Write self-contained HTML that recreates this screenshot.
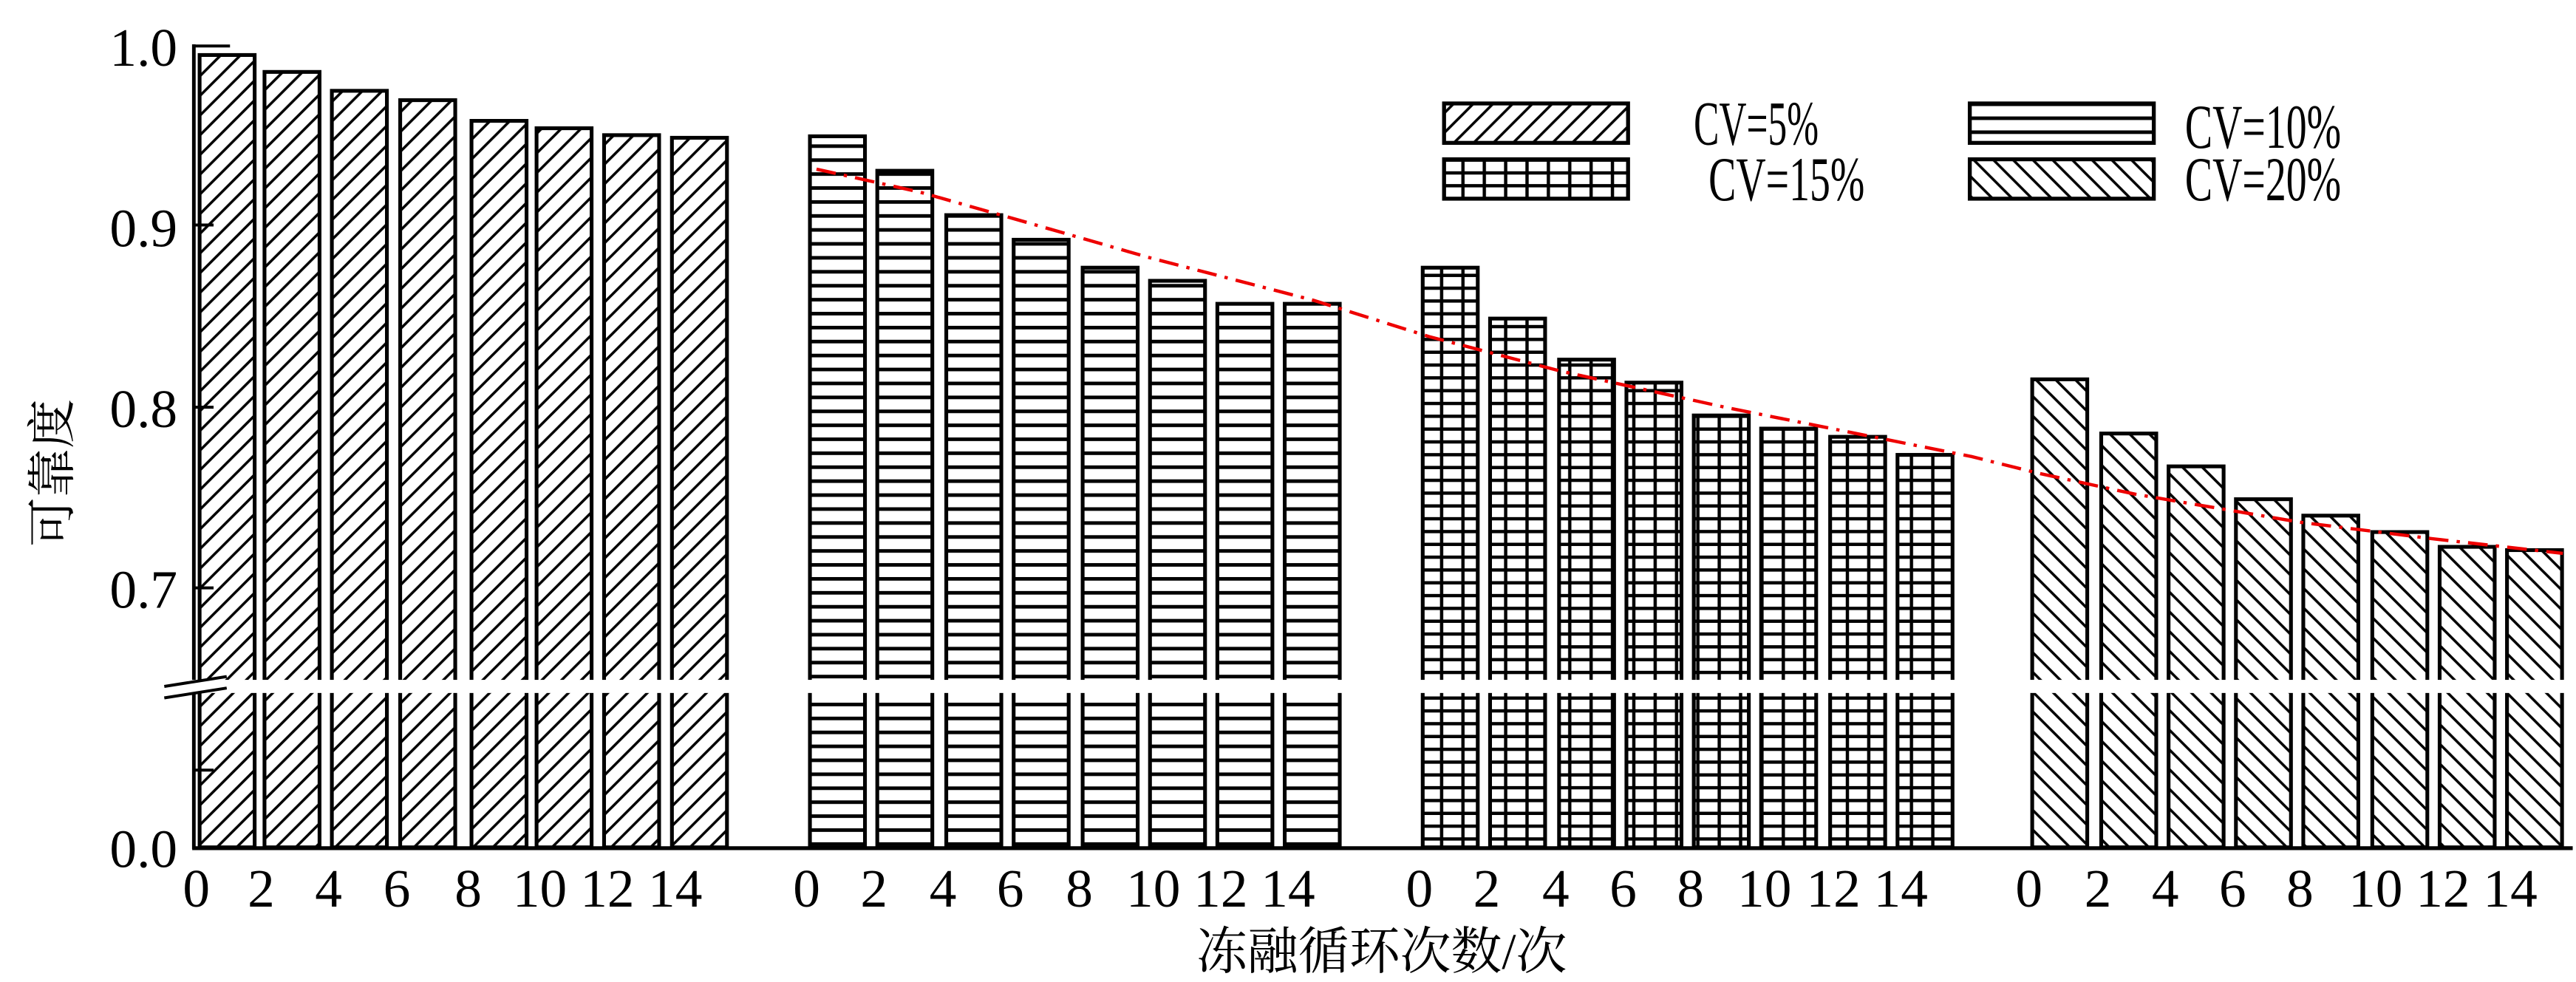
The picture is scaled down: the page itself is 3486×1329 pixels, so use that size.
<!DOCTYPE html>
<html><head><meta charset="utf-8"><style>
html,body{margin:0;padding:0;background:#fff;}
svg{display:block;}
text{font-family:"Liberation Serif","Noto Serif CJK SC",serif;fill:#000;}
</style></head><body>
<svg width="3486" height="1329" viewBox="0 0 1568 598" preserveAspectRatio="none" xmlns="http://www.w3.org/2000/svg">
<defs>
<pattern id="p1" patternUnits="userSpaceOnUse" width="12" height="12"><path d="M-3,15 L15,-3 M-3,3 L3,-3 M9,15 L15,9" stroke="#000" stroke-width="1.6"/></pattern>
<pattern id="p2" patternUnits="userSpaceOnUse" width="10" height="8.5"><path d="M0,4 H10" stroke="#000" stroke-width="2.2"/></pattern>
<pattern id="p3" patternUnits="userSpaceOnUse" width="13" height="7.8"><path d="M0,3.9 H13 M6.5,0 V7.8" stroke="#000" stroke-width="2"/></pattern>
<pattern id="p4" patternUnits="userSpaceOnUse" width="12" height="12"><path d="M-3,-3 L15,15 M-3,9 L3,15 M9,-3 L15,3" stroke="#000" stroke-width="1.6"/></pattern>
</defs>
<g id="bars" stroke="#000" stroke-width="2.3"></g>
<rect x="110" y="414" width="1458" height="8" fill="#fff"/>
<line x1="118" y1="27" x2="118" y2="414" stroke="#000" stroke-width="2.2"/>
<line x1="118" y1="422" x2="118" y2="517" stroke="#000" stroke-width="2.2"/>
<line x1="117" y1="516.5" x2="1566" y2="516.5" stroke="#000" stroke-width="2.4"/>
<line x1="118" y1="28" x2="140" y2="28" stroke="#000" stroke-width="1.8"/>
<line x1="118" y1="137" x2="130" y2="137" stroke="#000" stroke-width="1.8"/>
<line x1="118" y1="248" x2="130" y2="248" stroke="#000" stroke-width="1.8"/>
<line x1="118" y1="358" x2="130" y2="358" stroke="#000" stroke-width="1.8"/>
<line x1="118" y1="469" x2="130" y2="469" stroke="#000" stroke-width="1.8"/>
<line x1="100" y1="418" x2="138" y2="412" stroke="#000" stroke-width="1.8"/>
<line x1="100" y1="425" x2="138" y2="419" stroke="#000" stroke-width="1.8"/>
<g font-size="33" text-anchor="end">
<text x="108" y="40">1.0</text><text x="108" y="150">0.9</text><text x="108" y="260">0.8</text><text x="108" y="370">0.7</text><text x="108" y="528">0.0</text>
</g>
<g id="xl" font-size="33" text-anchor="middle"></g>
<polyline fill="none" stroke="#e00" stroke-width="2" stroke-dasharray="12,5,2,5" points="497,103 560,117 620,134 700,157 800,183 870,205 950,226 1050,248 1150,268 1200,278 1240,288 1300,301 1400,318 1480,328 1560,337"/>
<g stroke="#000" stroke-width="2.4">
<rect x="879" y="63" width="112" height="24" fill="url(#p1)"/>
<rect x="1199" y="63" width="112" height="24" fill="url(#p2)"/>
<rect x="879" y="97" width="112" height="24" fill="url(#p3)"/>
<rect x="1199" y="97" width="112" height="24" fill="url(#p4)"/>
</g>
<g font-size="38">
<text x="1031" y="88" textLength="76" lengthAdjust="spacingAndGlyphs">CV=5%</text>
<text x="1330" y="90" textLength="95" lengthAdjust="spacingAndGlyphs">CV=10%</text>
<text x="1040" y="122" textLength="95" lengthAdjust="spacingAndGlyphs">CV=15%</text>
<text x="1330" y="122" textLength="95" lengthAdjust="spacingAndGlyphs">CV=20%</text>
</g>
<text x="841" y="590" font-size="31" text-anchor="middle">冻融循环次数/次</text>
<text transform="translate(42,288) rotate(-90)" font-size="30" text-anchor="middle">可靠度</text>
<script>
var groups=[
 {x:[121.5,161,202,243.6,287,326.6,367.7,409],t:[33.5,43.8,55.3,61,73.6,78.1,82.3,83.9],p:'p1'},
 {x:[493,534,576,617,659,700,741,782],t:[83,104,131,146,163,171,185,185],p:'p2'},
 {x:[866,907,949,990,1031,1072,1114,1155],t:[163,194,219,233,253,261,266,277],p:'p3'},
 {x:[1237,1279,1320,1361,1402,1444,1485,1526],t:[231,264,284,304,314,324,333,335],p:'p4'}];
var ns='http://www.w3.org/2000/svg',b=document.getElementById('bars'),xl=document.getElementById('xl');
var labs=['0','2','4','6','8','10','12','14'];
groups.forEach(function(g){g.x.forEach(function(x,i){
 var r=document.createElementNS(ns,'rect');
 r.setAttribute('x',x);r.setAttribute('y',g.t[i]);r.setAttribute('width',33.5);r.setAttribute('height',516-g.t[i]);
 r.setAttribute('fill','url(#'+g.p+')');b.appendChild(r);
 var t=document.createElementNS(ns,'text');t.setAttribute('x',x-2+(i>=5?4:0));t.setAttribute('y',552);t.textContent=labs[i];xl.appendChild(t);
});});
</script>
</svg>
</body></html>
